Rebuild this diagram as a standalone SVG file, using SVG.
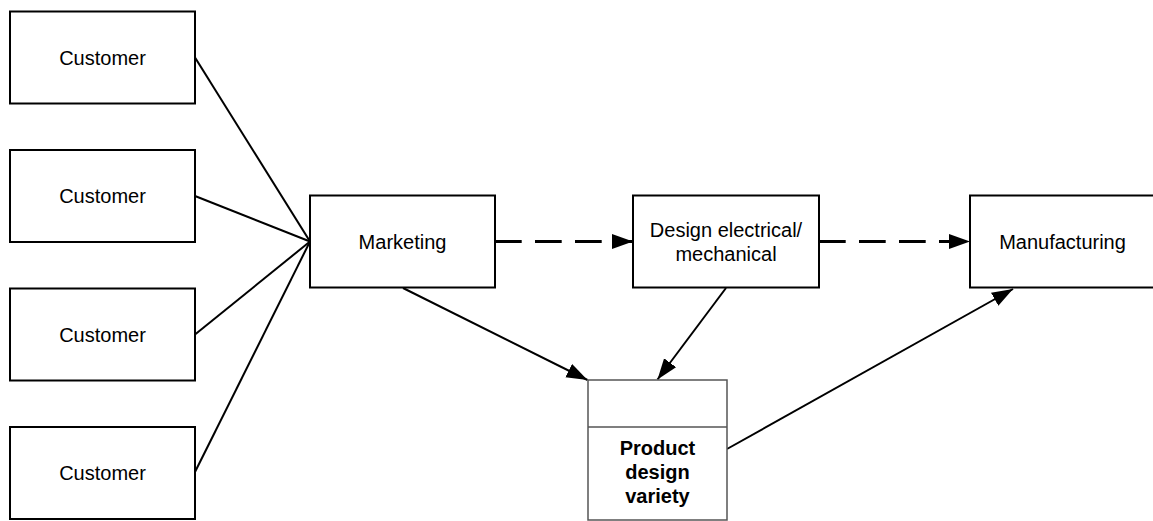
<svg xmlns="http://www.w3.org/2000/svg" width="1153" height="521" viewBox="0 0 1153 521">
<style>
.box{fill:#fff;stroke:#000;stroke-width:2}
.pbox{fill:#fff;stroke:#555;stroke-width:1.5}
.t{font-family:"Liberation Sans",Arial,sans-serif;font-size:20px;fill:#000;text-anchor:middle}
.b{font-weight:bold}
.ln{stroke:#000;stroke-width:2;fill:none}
.dash{stroke:#000;stroke-width:3;fill:none;stroke-dasharray:26.7 13.3}
</style>
<defs>
<marker id="ah" markerUnits="userSpaceOnUse" markerWidth="22" markerHeight="16" refX="21" refY="7.5" orient="auto">
<path d="M0,0 L21,7.5 L0,15 z" fill="#000"/>
</marker>
</defs>
<rect width="1153" height="521" fill="#fff"/>
<g id="connectors">
<line class="ln" x1="195" y1="57.5" x2="310" y2="241.5"/>
<line class="ln" x1="195" y1="196" x2="310" y2="241.5"/>
<line class="ln" x1="195" y1="334.5" x2="310" y2="241.5"/>
<line class="ln" x1="195" y1="472" x2="310" y2="241.5"/>
<line class="dash" x1="495" y1="241.5" x2="633" y2="241.5" marker-end="url(#ah)"/>
<line class="dash" x1="819" y1="241.5" x2="970" y2="241.5" marker-end="url(#ah)"/>
<line class="ln" x1="403" y1="288" x2="587.5" y2="380" marker-end="url(#ah)"/>
<line class="ln" x1="726" y1="288" x2="657.5" y2="379.5" marker-end="url(#ah)"/>
<line class="ln" x1="727" y1="449" x2="1013" y2="289" marker-end="url(#ah)"/>
</g>
<g id="customer1"><rect class="box" x="10" y="11.5" width="185" height="92"/><text class="t" x="102.5" y="64.5">Customer</text></g>
<g id="customer2"><rect class="box" x="10" y="150" width="185" height="92"/><text class="t" x="102.5" y="203">Customer</text></g>
<g id="customer3"><rect class="box" x="10" y="288.5" width="185" height="92"/><text class="t" x="102.5" y="341.5">Customer</text></g>
<g id="customer4"><rect class="box" x="10" y="427" width="185" height="92"/><text class="t" x="102.5" y="480">Customer</text></g>
<g id="marketing"><rect class="box" x="310" y="195.5" width="185" height="92"/><text class="t" x="402.5" y="248.5">Marketing</text></g>
<g id="design"><rect class="box" x="633" y="195.5" width="186" height="92"/><text class="t" x="726" y="237">Design electrical/</text><text class="t" x="726" y="261">mechanical</text></g>
<g id="manufacturing"><rect class="box" x="970" y="195.5" width="185" height="92"/><text class="t" x="1062.5" y="248.5">Manufacturing</text></g>
<g id="pdv"><rect class="pbox" x="588" y="380" width="139" height="140"/><line class="pbox" x1="588" y1="427" x2="727" y2="427"/><text class="t b" x="657.5" y="455">Product</text><text class="t b" x="657.5" y="479">design</text><text class="t b" x="657.5" y="503">variety</text></g>
</svg>
